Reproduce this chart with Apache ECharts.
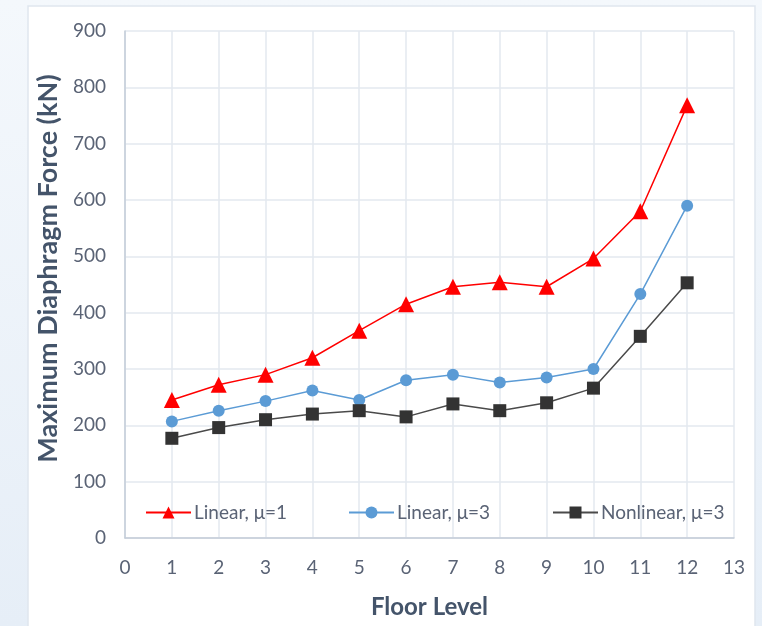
<!DOCTYPE html>
<html>
<head>
<meta charset="utf-8">
<script src="https://cdn.jsdelivr.net/npm/echarts@6/dist/echarts.min.js"></script>
<style>
html,body{margin:0;padding:0;background:#eef4fa;}
#c{width:762px;height:626px;}
</style>
</head>
<body>
<div id="c"></div>
<script>
const floors = [1,2,3,4,5,6,7,8,9,10,11,12];
const linearMu1 = [245,272,290,320,368,415,446,454,446,496,580,768];
const linearMu3 = [207,226,243,262,245,280,290,276,285,300,433,590];
const nonlinearMu3 = [177,196,210,220,226,215,238,226,240,266,358,453];
const seriesNames = ['Linear, μ=1','Linear, μ=3','Nonlinear, μ=3'];
const xTitle = 'Floor Level';
const yTitle = 'Maximum Diaphragm Force (kN)';

const FONT = 'Lato';
const tickColor = '#5a6375';
const titleColor = '#44546a';
const gridColor = '#e3e8ef';

const chart = echarts.init(document.getElementById('c'), null, {renderer:'canvas'});
function pairs(v){ return floors.map((f,i)=>[f,v[i]]); }
function legend(name, left){
  return {
    data:[name], left:left, top:503, itemWidth:45, itemHeight:15,
    textStyle:{fontFamily:FONT,fontSize:19,color:tickColor,padding:[0,0,0,-2]},
    padding:0, itemGap:0
  };
}
chart.setOption({
  backgroundColor:'transparent',
  animation:false,
  graphic:[
    {type:'rect',shape:{x:0,y:0,width:762,height:626},style:{fill:new echarts.graphic.LinearGradient(0,0,0,1,[{offset:0,color:'#f4f8fc'},{offset:1,color:'#e6eef7'}])},z:-10,silent:true},
    {type:'rect',shape:{x:28,y:6,width:727,height:625},style:{fill:'#ffffff',stroke:'#dfe6ee',lineWidth:1.5},z:-9,silent:true}
  ],
  grid:{left:125,right:28,top:31,bottom:88,containLabel:false},
  legend:[legend(seriesNames[0],145),legend(seriesNames[1],348),legend(seriesNames[2],552)],
  xAxis:{
    type:'value',min:0,max:13,interval:1,
    name:xTitle,nameLocation:'middle',nameGap:57,
    nameTextStyle:{fontFamily:FONT,fontSize:24,fontWeight:'bold',color:titleColor},
    axisLine:{show:true,lineStyle:{color:'#c3ccd8',width:1.5}},
    axisTick:{show:false},
    axisLabel:{fontFamily:FONT,fontSize:19,color:tickColor,margin:20},
    splitLine:{show:true,lineStyle:{color:gridColor,width:1.5}}
  },
  yAxis:{
    type:'value',min:0,max:900,interval:100,
    name:yTitle,nameLocation:'middle',nameGap:61,
    nameTextStyle:{fontFamily:FONT,fontSize:27,fontWeight:'bold',color:titleColor,padding:[0,0,0,32]},
    axisLine:{show:true,lineStyle:{color:'#c3ccd8',width:1.5}},
    axisTick:{show:false},
    axisLabel:{fontFamily:FONT,fontSize:19,color:tickColor,margin:19},
    splitLine:{show:true,lineStyle:{color:gridColor,width:1.5}}
  },
  series:[
    {name:seriesNames[0],type:'line',data:pairs(linearMu1),symbol:'triangle',symbolSize:16,
     lineStyle:{color:'#ff0000',width:1.5},itemStyle:{color:'#ff0000'}},
    {name:seriesNames[1],type:'line',data:pairs(linearMu3),symbol:'circle',symbolSize:12,
     lineStyle:{color:'#5b9bd5',width:1.5},itemStyle:{color:'#5b9bd5'}},
    {name:seriesNames[2],type:'line',data:pairs(nonlinearMu3),symbol:'rect',symbolSize:13,
     lineStyle:{color:'#4a4a4a',width:1.5},itemStyle:{color:'#333333'}}
  ]
});
</script>
</body>
</html>
